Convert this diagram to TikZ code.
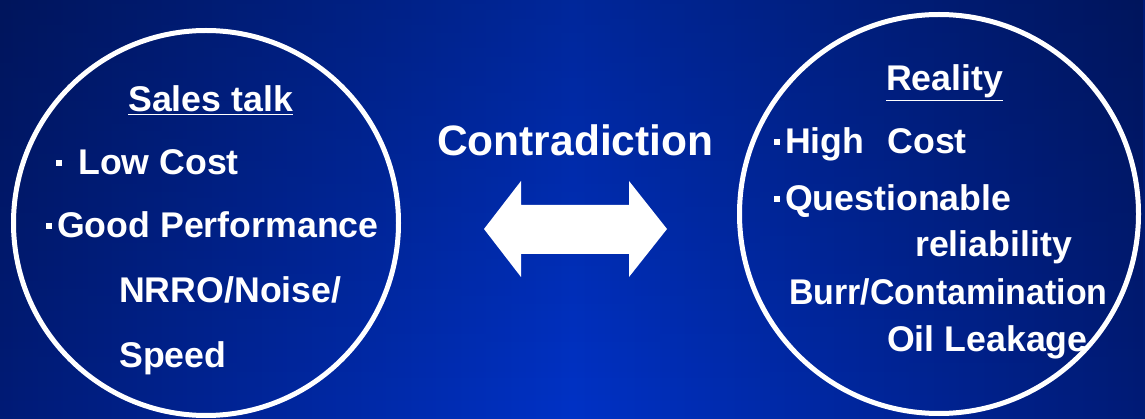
\documentclass[tikz,border=0pt]{standalone}
\usepackage{fontspec}
\setmainfont{Liberation Sans}
\usetikzlibrary{fadings}
\definecolor{bgedge}{HTML}{001B76}
\definecolor{bgmid}{HTML}{0032C6}
\tikzset{
  txt/.style={anchor=base west, inner sep=0pt, text=white, font=\fontsize{35.7}{40}\selectfont\bfseries},
  bigtxt/.style={anchor=base west, inner sep=0pt, text=white, font=\fontsize{42.5}{48}\selectfont\bfseries},
  ring/.style={draw=white, line width=5pt},
}
\newcommand{\sqbul}{\rule[9pt]{6pt}{6pt}}
\begin{document}
\begin{tikzpicture}[x=1pt,y=-1pt]
\useasboundingbox (0,0) rectangle (1145,419);
\shade[left color=bgedge, right color=bgedge, middle color=bgmid] (0,0) rectangle (1145,419);
\fill[black, path fading=south, fill opacity=0.22] (0,0) rectangle (1145,419);
% circles
\coordinate (lc) at (206,223);
\coordinate (rc) at (939,214);
\draw[ring] (lc) circle (192.5);
\draw[ring] (rc) circle (199.5);
% left texts
\node[txt] (sales) at (128,112) {\underline{Sales talk}};
\node[txt] (low) at (56,175) {\sqbul\hspace{16pt}Low Cost};
\node[txt] (good) at (46,238) {\sqbul\hspace{5pt}Good Performance};
\node[txt] (nrro) at (119,303) {NRRO/Noise/};
\node[txt] (speed) at (119,367) {Speed};
% right texts
\node[txt] (real) at (886,91) {\underline{Reality}};
\node[txt] (high) at (774,154) {\sqbul\hspace{5pt}High\hspace{23pt}Cost};
\node[txt] (quest) at (774,211) {\sqbul\hspace{5pt}Questionable};
\node[txt] (rel) at (915,257) {reliability};
\node[txt, xscale=0.95] (burr) at (789,305) {Burr/Contamination};
\node[txt] (oil) at (887,352) {Oil Leakage};
% middle
\node[bigtxt] (contra) at (437,156) {Contradiction};
\fill[white] (484,229) -- (521,181) -- (521,205) -- (629,205) -- (629,181)
  -- (667,229) -- (629,277) -- (629,254) -- (521,254) -- (521,277) -- cycle;
\end{tikzpicture}
\end{document}
